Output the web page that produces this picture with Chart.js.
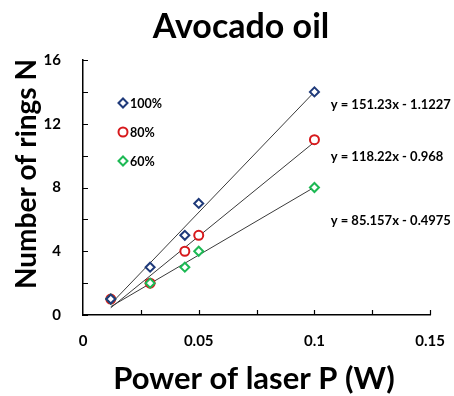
<!DOCTYPE html>
<html>
<head>
<meta charset="utf-8">
<script src="https://cdn.jsdelivr.net/npm/chart.js@4/dist/chart.umd.min.js"></script>
<style>
  html, body { margin: 0; padding: 0; background: #fff; }
  #wrap { width: 454px; height: 396px; }
</style>
</head>
<body>
<div id="wrap"><canvas id="c" width="454" height="396"></canvas></div>
<script>
// ---- data ----
const chartTitle = 'Avocado oil';
const xTitle = 'Power of laser P (W)';
const yTitle = 'Number of rings N';
const powerW = [0.012, 0.029, 0.044, 0.05, 0.1];
const rings100 = [1, 3, 5, 7, 14];
const rings80 = [1, 2, 4, 5, 11];
const rings60 = [1, 2, 3, 4, 8];
const seriesLabels = ['100%', '80%', '60%'];
const trendSlopes = [151.23, 118.22, 85.157];
const trendIntercepts = [-1.1227, -0.968, -0.4975];
const equationTexts = ['y = 151.23x - 1.1227', 'y = 118.22x - 0.968', 'y = 85.157x - 0.4975'];
const equationAnchorX = [0.107, 0.107, 0.107];
const equationAnchorY = [13.2, 9.9, 5.9];
const xTickLabels = [0, 0.05, 0.1, 0.15];
const yTickLabels = [0, 4, 8, 12, 16];

// ---- styles ----
const FONT = 'Lato, "Open Sans", sans-serif';
const colors = ['#1F3A7A', '#D7191C', '#1DB954'];
const styles = ['rectRot', 'circle', 'rectRot'];
const radii = [4.5, 4.5, 4.5];
const orders = [1, 3, 2];

const seriesValues = [rings100, rings80, rings60];
const datasets = [];
seriesValues.forEach((vals, i) => {
  datasets.push({
    label: seriesLabels[i],
    data: powerW.map((x, j) => ({ x: x, y: vals[j] })),
    showLine: false,
    pointStyle: styles[i],
    pointRadius: radii[i],
    pointBorderWidth: 2,
    pointBorderColor: colors[i],
    pointBackgroundColor: '#ffffff',
    borderColor: colors[i],
    backgroundColor: '#ffffff',
    order: orders[i]
  });
});
const xMin = Math.min(...powerW), xMax = Math.max(...powerW);
seriesValues.forEach((vals, i) => {
  datasets.push({
    label: 'trend ' + seriesLabels[i],
    isTrend: true,
    data: [xMin, xMax].map(x => ({ x: x, y: trendSlopes[i] * x + trendIntercepts[i] })),
    showLine: true,
    borderColor: '#3a3a3a',
    borderWidth: 1,
    pointRadius: 0,
    fill: false,
    order: 10
  });
});

const decorPlugin = {
  id: 'decor',
  afterDraw(chart) {
    const ctx = chart.ctx;
    const xs = chart.scales.x, ys = chart.scales.y;
    const a = chart.chartArea;
    ctx.save();
    // inner tick marks
    ctx.strokeStyle = '#000';
    ctx.lineWidth = 1.2;
    ctx.beginPath();
    for (let v = 0; v <= 16.0001; v += 2) {
      const py = Math.round(ys.getPixelForValue(v)) + 0.5;
      ctx.moveTo(a.left, py); ctx.lineTo(a.left + 5, py);
    }
    for (let v = 0.025; v <= 0.15001; v += 0.025) {
      const px = Math.round(xs.getPixelForValue(v)) + 0.5;
      ctx.moveTo(px, a.bottom); ctx.lineTo(px, a.bottom - 5);
    }
    ctx.stroke();

    // title
    ctx.fillStyle = '#000';
    ctx.font = 'bold 34px ' + FONT;
    ctx.textAlign = 'center';
    ctx.textBaseline = 'alphabetic';
    ctx.fillText(chartTitle, 241, 38);

    // axis titles
    ctx.font = 'bold 31px ' + FONT;
    ctx.fillText(xTitle, 254, 389);
    ctx.save();
    ctx.font = 'bold 28px ' + FONT;
    ctx.translate(36, 174);
    ctx.rotate(-Math.PI / 2);
    ctx.fillText(yTitle, 0, 0);
    ctx.restore();

    // equations
    ctx.font = 'bold 13px ' + FONT;
    ctx.textAlign = 'left';
    ctx.textBaseline = 'middle';
    equationTexts.forEach((t, i) => {
      ctx.fillText(t, xs.getPixelForValue(equationAnchorX[i]), ys.getPixelForValue(equationAnchorY[i]));
    });

    // legend
    const lx = a.left + 40, ly0 = a.top + 43, dy = 29;
    chart.data.datasets.forEach((ds, i) => {
      if (ds.isTrend) return;
      const y = ly0 + i * dy;
      ctx.strokeStyle = ds.pointBorderColor;
      ctx.fillStyle = '#fff';
      ctx.lineWidth = ds.pointBorderWidth;
      Chart.helpers.drawPoint(ctx, { pointStyle: ds.pointStyle, radius: ds.pointRadius, borderWidth: ds.pointBorderWidth }, lx, y);
      ctx.fillStyle = '#000';
      ctx.font = 'bold 12.5px ' + FONT;
      ctx.textAlign = 'left';
      ctx.textBaseline = 'middle';
      ctx.fillText(ds.label, lx + 7, y + 1);
    });
    ctx.restore();
  }
};

new Chart(document.getElementById('c'), {
  type: 'scatter',
  data: { datasets: datasets },
  options: {
    responsive: false,
    animation: false,
    layout: { padding: { left: 0, right: 21, top: 60, bottom: 0 } },
    plugins: { legend: { display: false }, tooltip: { enabled: false }, title: { display: false } },
    scales: {
      x: {
        type: 'linear', min: 0, max: 0.15,
        afterBuildTicks(scale) { scale.ticks = xTickLabels.map(v => ({ value: v })); },
        afterFit(scale) { scale.height = 81; },
        ticks: {
          color: '#000', padding: 9, maxRotation: 0, autoSkip: false,
          font: { family: FONT, weight: 'bold', size: 15 },
          callback: v => String(v)
        },
        grid: { display: false },
        border: { display: true, color: '#000', width: 1.5 }
      },
      y: {
        type: 'linear', min: 0, max: 16,
        afterBuildTicks(scale) { scale.ticks = yTickLabels.map(v => ({ value: v })); },
        afterFit(scale) { scale.width = 83; },
        ticks: {
          color: '#000', padding: 14, autoSkip: false,
          font: { family: FONT, weight: 'bold', size: 15 },
          callback: v => String(v)
        },
        grid: { display: false },
        border: { display: true, color: '#000', width: 1.5 }
      }
    }
  },
  plugins: [decorPlugin]
});
</script>
</body>
</html>
